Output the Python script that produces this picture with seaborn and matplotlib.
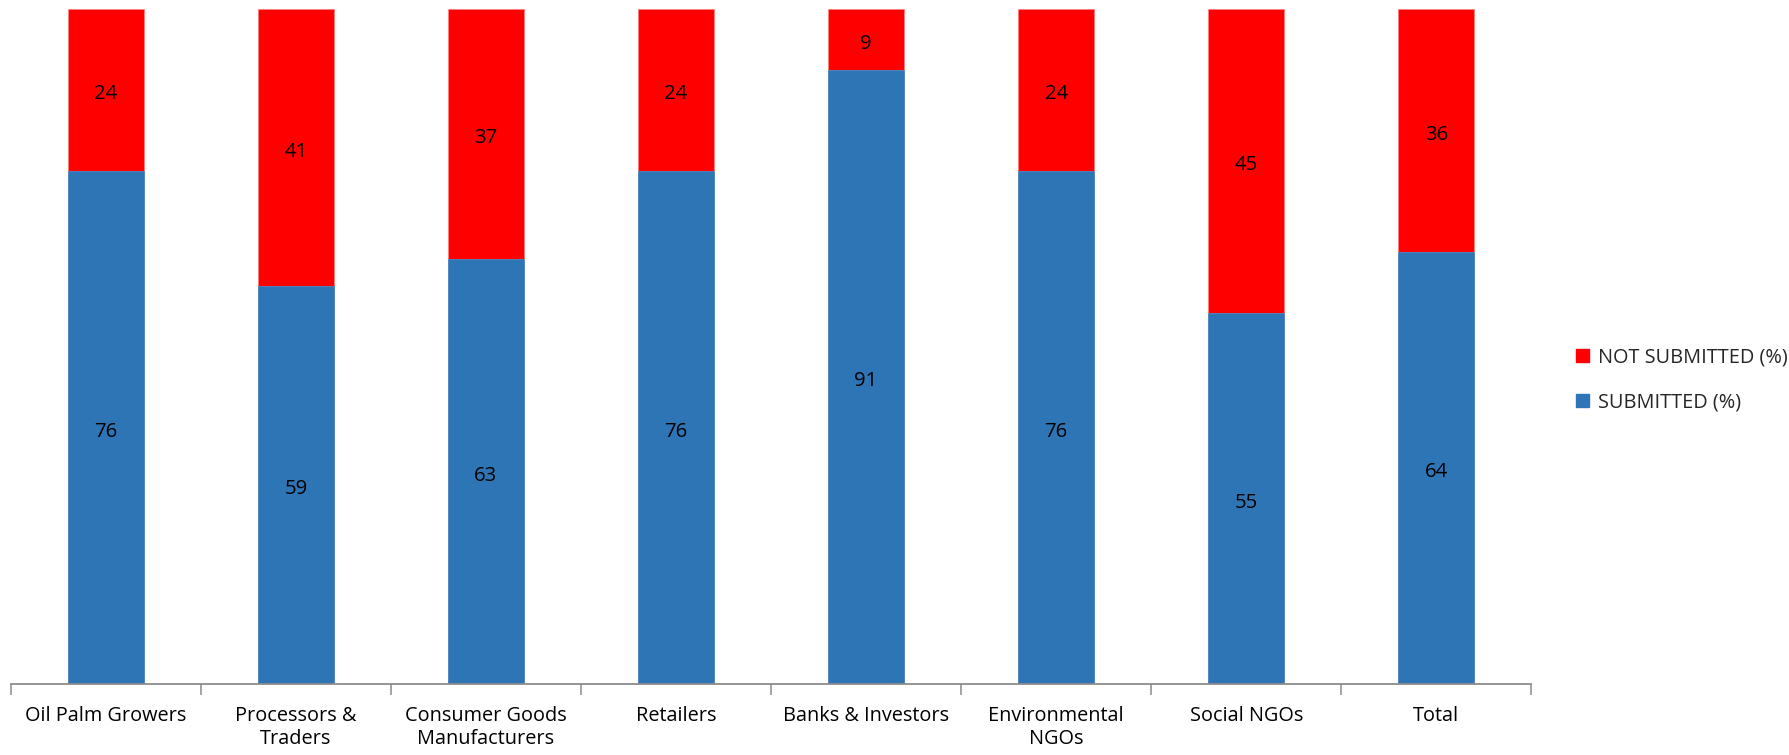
import matplotlib
matplotlib.use("Agg")
import matplotlib.pyplot as plt
import matplotlib.transforms as mtransforms
import seaborn as sns
import pandas as pd
import numpy as np
from matplotlib.patches import Patch

categories = ["Oil Palm Growers", "Processors &\nTraders", "Consumer Goods\nManufacturers",
              "Retailers", "Banks & Investors", "Environmental\nNGOs", "Social NGOs", "Total"]
submitted = [76, 59, 63, 76, 91, 76, 55, 64]
not_submitted = [24, 41, 37, 24, 9, 24, 45, 36]

BLUE = "#2E75B6"
RED = "#FF0000"

sns.set_theme(style="white")
plt.rcParams['font.family'] = ['Open Sans', 'DejaVu Sans']
FS = 14.3

df = pd.DataFrame({"cat": categories, "sub": submitted, "nots": not_submitted})
df["total"] = df["sub"] + df["nots"]

fig = plt.figure(figsize=(17.89, 7.55), dpi=100)
ax = fig.add_axes([0.006, 0.094, 0.850, 0.894])

sns.barplot(data=df, x="cat", y="total", color=RED, saturation=1, width=0.4, ax=ax,
            edgecolor="#FF8080", linewidth=0.6)
sns.barplot(data=df, x="cat", y="sub", color=BLUE, saturation=1, width=0.4, ax=ax,
            edgecolor="#4A8BC8", linewidth=0.6)

lab_tr = ax.transData + mtransforms.ScaledTranslation(0, -3 / 72, fig.dpi_scale_trans)
for i, (s, n) in enumerate(zip(submitted, not_submitted)):
    ax.text(i, s / 2, f"{s}", ha="center", va="center", fontsize=FS + 0.4,
            color="black", transform=lab_tr)
    ax.text(i, s + n / 2, f"{n}", ha="center", va="center", fontsize=FS + 0.4,
            color="black", transform=lab_tr)

ax.set_ylim(0, 100)
ax.set_xlim(-0.5, len(categories) - 0.5)
ax.set_xlabel("")
ax.set_ylabel("")
ax.set_yticks([])
for sp in ["top", "right", "left"]:
    ax.spines[sp].set_visible(False)
ax.spines["bottom"].set_color("#8C8C8C")
ax.spines["bottom"].set_linewidth(1.3)

ax.set_xticks(range(len(categories)))
ax.set_xticklabels(categories, fontsize=FS, linespacing=1.15)
ax.tick_params(axis="x", which="major", bottom=False, length=0, pad=16, colors="black")
ax.set_xticks(np.arange(-0.5, len(categories)), minor=True)
ax.tick_params(axis="x", which="minor", bottom=True, length=8, width=1.1,
               color="#8C8C8C", direction="out")

handles = [Patch(facecolor=RED, edgecolor=RED, label="NOT SUBMITTED (%)"),
           Patch(facecolor=BLUE, edgecolor=BLUE, label="SUBMITTED (%)")]
fig.legend(handles=handles, loc="center left", bbox_to_anchor=(0.871, 0.497),
           frameon=False, fontsize=FS, handlelength=0.65, handleheight=0.65,
           handletextpad=0.45, labelspacing=1.25)

fig.savefig("out.png", dpi=100)
